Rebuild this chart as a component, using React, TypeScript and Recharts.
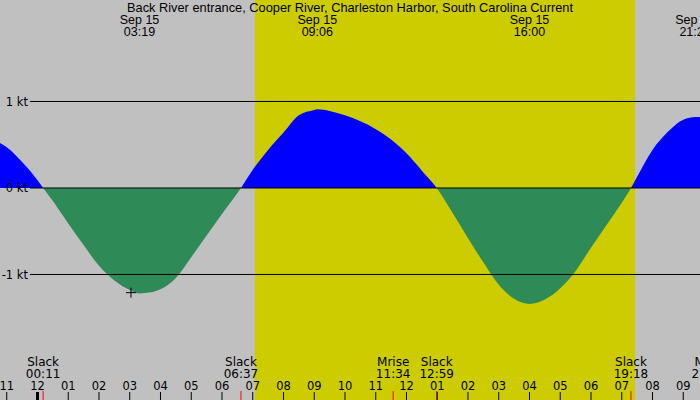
import {
  ComposedChart,
  Area,
  XAxis,
  YAxis,
  ReferenceLine,
  ReferenceArea,
  Scatter,
} from "recharts";

// current speed (kt), hours from local midnight Sep 15
const times = [
  -1.22, -1, -0.5, 0, 0.183, 0.5, 1, 1.5, 2, 2.5, 3, 3.32, 3.5, 4, 4.5, 5, 5.5, 6,
  6.617, 7, 7.5, 8, 8.5, 9, 9.1, 9.5, 10, 10.5, 11, 11.5, 12, 12.5, 12.983,
  13.5, 14, 14.5, 15, 15.5, 16, 16.5, 17, 17.5, 18, 18.5, 19, 19.3,
  19.5, 20, 20.5, 21, 21.4, 21.55,
];
const speeds = [
  0.52, 0.47, 0.3, 0.09, 0, -0.15, -0.41, -0.66, -0.9, -1.07, -1.18, -1.22, -1.215, -1.17, -1.04, -0.8, -0.55, -0.3,
  0, 0.21, 0.44, 0.64, 0.84, 0.9, 0.91, 0.89, 0.84, 0.77, 0.68, 0.56, 0.4, 0.2, 0,
  -0.29, -0.58, -0.86, -1.12, -1.28, -1.34, -1.29, -1.16, -0.96, -0.69, -0.43, -0.17, 0,
  0.13, 0.44, 0.65, 0.79, 0.82, 0.82,
];

const hourTicks = [-1, 0, 1, 2, 3, 4, 5, 6, 7, 8, 9, 10, 11, 12, 13, 14, 15, 16, 17, 18, 19, 20, 21];
const hourLabels = ["11", "12", "01", "02", "03", "04", "05", "06", "07", "08", "09", "10", "11", "12", "01", "02", "03", "04", "05", "06", "07", "08", "09"];

const eventNames = ["Slack", "Slack", "Mrise", "Slack", "Slack", "Mset"];
const eventTimes = ["00:11", "06:37", "11:34", "12:59", "19:18", "21:50"];

const peakDates = ["Sep 15", "Sep 15", "Sep 15", "Sep 15"];
const peakTimes = ["03:19", "09:06", "16:00", "21:23"];

const speedLevels = [1, -1];
const speedLabels = ["1 kt", "-1 kt"];

const sunrise = "07:04";
const sunset = "19:26";
const marker = [{ t: 3.04, v: -1.21 }];

const TITLE = "Back River entrance, Cooper River, Charleston Harbor, South Carolina Current";

const X_DOMAIN: [number, number] = [-1.2195, 21.545];
const Y_DOMAIN: [number, number] = [-2.451, 2.173];
const LINE_START = -0.245;
const CHART_H = 400;

const toHours = (s: string) => {
  const [h, m] = s.split(":").map(Number);
  return h + m / 60;
};

const data = times.map((t, i) => ({ t, speed: speeds[i] }));

// where 0 kt falls, as a fraction of the chart height
const zeroOffset = Y_DOMAIN[1] / (Y_DOMAIN[1] - Y_DOMAIN[0]);

const bottomFont = "'DejaVu Sans', sans-serif";
const topFont = "'Liberation Sans', Arial, sans-serif";

const HourTick = (props: any) => {
  const { x, index } = props;
  const midnight = hourTicks[index] === 0;
  return (
    <g>
      {midnight ? (
        <rect x={x - 1.5} y={392} width={3} height={8} fill="#000" />
      ) : (
        <line x1={x} x2={x} y1={392} y2={400} stroke="#000" />
      )}
      <text x={x} y={390} textAnchor="middle" fontFamily={bottomFont} fontSize={11.5} fill="#000">
        {hourLabels[index]}
      </text>
    </g>
  );
};

const EventLabel = ({ viewBox, name, time }: any) => {
  const x = viewBox.x;
  return (
    <g>
      <line x1={x} x2={x} y1={391} y2={400} stroke="#ff0000" />
      <text x={x} y={366} textAnchor="middle" fontFamily={bottomFont} fontSize={12} fill="#000">
        {name}
      </text>
      <text x={x} y={378} textAnchor="middle" fontFamily={bottomFont} fontSize={12} fill="#000">
        {time}
      </text>
    </g>
  );
};

const PeakLabel = ({ viewBox, date, time }: any) => {
  const x = viewBox.x;
  return (
    <g>
      <text x={x} y={24} textAnchor="middle" fontFamily={topFont} fontSize={12.5} fill="#000">
        {date}
      </text>
      <text x={x} y={35.5} textAnchor="middle" fontFamily={topFont} fontSize={12.5} fill="#000">
        {time}
      </text>
    </g>
  );
};

const Cross = ({ cx, cy }: any) => (
  <g stroke="#000" strokeWidth={1}>
    <line x1={cx - 5} x2={cx + 5} y1={cy} y2={cy} />
    <line x1={cx} x2={cx} y1={cy - 5} y2={cy + 5} />
  </g>
);

export default function App() {
  return (
    <div style={{ position: "relative", width: 700, height: 400, background: "#c0c0c0" }}>
      <style>{"body{margin:0}"}</style>
      <ComposedChart width={700} height={CHART_H} data={data} margin={{ top: 0, right: 0, bottom: 0, left: 0 }}>
        <defs>
          <linearGradient id="floodEbb" x1="0" y1="0" x2="0" y2={CHART_H} gradientUnits="userSpaceOnUse">
            <stop offset={zeroOffset} stopColor="#0000ff" />
            <stop offset={zeroOffset} stopColor="#2e8b57" />
          </linearGradient>
        </defs>
        <XAxis
          type="number"
          dataKey="t"
          domain={X_DOMAIN}
          allowDataOverflow
          ticks={hourTicks}
          interval={0}
          orientation="bottom"
          mirror
          axisLine={false}
          tickLine={false}
          tick={<HourTick />}
        />
        <YAxis type="number" domain={Y_DOMAIN} allowDataOverflow hide />
        <ReferenceArea
          x1={toHours(sunrise)}
          x2={toHours(sunset)}
          fill="#cccc00"
          fillOpacity={1}
          stroke="none"
        />
        {speedLevels.map((s, i) => (
          <ReferenceLine
            key={s}
            segment={[{ x: LINE_START, y: s }, { x: X_DOMAIN[1], y: s }]}
            stroke="#000"
            label={{ value: speedLabels[i], position: "left", offset: 2, fontFamily: bottomFont, fontSize: 11.5, fill: "#000" }}
          />
        ))}
        <Area
          type="monotone"
          dataKey="speed"
          baseValue={0}
          fill="url(#floodEbb)"
          fillOpacity={1}
          stroke="none"
          dot={false}
          activeDot={false}
          isAnimationActive={false}
        />
        <ReferenceLine
          segment={[{ x: LINE_START, y: 0 }, { x: X_DOMAIN[1], y: 0 }]}
          stroke="#000"
          label={{ value: "0 kt", position: "left", offset: 2, fontFamily: bottomFont, fontSize: 11.5, fill: "#000" }}
        />
        {eventNames.map((name, i) => (
          <ReferenceLine
            key={`ev-${i}`}
            x={toHours(eventTimes[i])}
            stroke="none"
            ifOverflow="visible"
            label={(p: any) => <EventLabel {...p} name={name} time={eventTimes[i]} />}
          />
        ))}
        {peakTimes.map((time, i) => (
          <ReferenceLine
            key={`pk-${i}`}
            x={toHours(time)}
            stroke="none"
            ifOverflow="visible"
            label={(p: any) => <PeakLabel {...p} date={peakDates[i]} time={time} />}
          />
        ))}
        <Scatter data={marker} dataKey="v" shape={<Cross />} isAnimationActive={false} />
      </ComposedChart>
      <div
        style={{
          position: "absolute",
          top: 1,
          left: 0,
          width: 700,
          textAlign: "center",
          fontFamily: topFont,
          fontSize: 12.8,
          lineHeight: "14px",
          color: "#000",
        }}
      >
        {TITLE}
      </div>
    </div>
  );
}
